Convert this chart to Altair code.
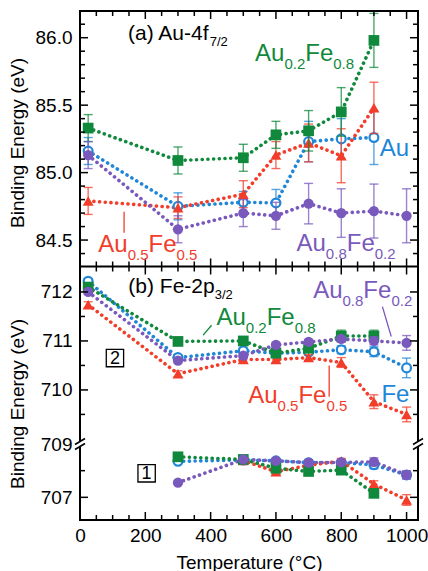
import altair as alt
import pandas as pd

FONT = "Liberation Sans"

# ---------------- temperatures (°C) ----------------
T_RT_900 = [25, 300, 500, 600, 700, 800, 900]
T_RT_1000 = [25, 300, 500, 600, 700, 800, 900, 1000]
T_300_900 = [300, 500, 600, 700, 800, 900]
T_300_1000 = [300, 500, 600, 700, 800, 900, 1000]
T_500_1000 = [500, 600, 700, 800, 900, 1000]

# ---------------- (a) Au-4f7/2 binding energy (eV) ----------------
a_au02fe08 = [85.33, 85.09, 85.11, 85.28, 85.31, 85.45, 85.98]
a_au02fe08_err = [0.10, 0.10, 0.10, 0.10, 0.15, 0.18, 0.20]
a_au = [85.16, 84.75, 84.78, 84.775, 85.23, 85.25, 85.26]
a_au_err = [0.10, 0.10, 0.08, 0.10, 0.15, 0.15, 0.20]
a_au05fe05 = [84.79, 84.74, 84.84, 85.13, 85.22, 85.125, 85.48]
a_au05fe05_err = [0.10, 0.08, 0.10, 0.10, 0.14, 0.20, 0.19]
a_au08fe02 = [85.13, 84.58, 84.70, 84.68, 84.77, 84.70, 84.715, 84.68]
a_au08fe02_err = [0.10, 0.10, 0.10, 0.10, 0.15, 0.18, 0.20, 0.20]

# ---------------- (b) Fe-2p3/2, component 2 ----------------
b2_au02fe08 = [712.10, 710.99, 711.00, 710.75, 710.85, 711.10, 711.10]
b2_au02fe08_err = [0.05, 0.05, 0.05, 0.06, 0.08, 0.12, 0.12]
b2_fe = [712.22, 710.66, 710.80, 710.75, 710.77, 710.82, 710.78, 710.45]
b2_fe_err = [0.05, 0.05, 0.05, 0.05, 0.05, 0.08, 0.10, 0.20]
b2_au05fe05 = [711.74, 710.33, 710.62, 710.62, 710.66, 710.56, 709.76, 709.50]
b2_au05fe05_err = [0.06, 0.06, 0.06, 0.06, 0.06, 0.10, 0.14, 0.15]
b2_au08fe02 = [712.00, 710.60, 710.70, 710.92, 710.98, 711.04, 711.00, 710.96]
b2_au08fe02_err = [0.05, 0.05, 0.05, 0.05, 0.05, 0.06, 0.08, 0.15]

# ---------------- (b) Fe-2p3/2, component 1 ----------------
b1_au02fe08 = [708.52, 708.42, 708.09, 707.97, 708.02, 707.15]
b1_au02fe08_err = [0.08, 0.05, 0.08, 0.08, 0.12, 0.15]
b1_fe = [708.35, 708.40, 708.37, 708.30, 708.30, 708.22, 707.84]
b1_fe_err = [0.05, 0.05, 0.05, 0.05, 0.05, 0.15, 0.15]
b1_au08fe02 = [707.55, 708.42, 708.37, 708.30, 708.31, 708.33, 707.84]
b1_au08fe02_err = [0.05, 0.05, 0.05, 0.06, 0.10, 0.15, 0.15]
b1_au05fe05 = [708.38, 707.96, 708.20, 708.36, 707.50, 706.90]
b1_au05fe05_err = [0.05, 0.10, 0.06, 0.10, 0.12, 0.20]

# ---------------- axis ticks ----------------
X_LABELS = [0, 200, 400, 600, 800, 1000]
X_MINOR = [50, 100, 150, 250, 300, 350, 450, 500, 550, 650, 700, 750, 850, 900, 950]
A_LABELS = [84.5, 85.0, 85.5, 86.0]
A_MINOR = [84.4, 84.6, 84.7, 84.8, 84.9, 85.1, 85.2, 85.3, 85.4,
           85.6, 85.7, 85.8, 85.9, 86.1]
B_LABELS = [707, 709, 710, 711, 712]
B_MAJOR = [707, 710, 711, 712]
B_MINOR = [708, 709.5, 710.5, 711.5]
B_BREAK = [709]


def series_frame(peak, key, temps, vals, errs):
    return pd.DataFrame({
        "peak": peak, "series": key, "T": temps, "E": vals,
        "lo": [v - e for v, e in zip(vals, errs)],
        "hi": [v + e for v, e in zip(vals, errs)],
    })


data_a = pd.concat([
    series_frame("a", "au02fe08", T_RT_900, a_au02fe08, a_au02fe08_err),
    series_frame("a", "pure", T_RT_900, a_au, a_au_err),
    series_frame("a", "au05fe05", T_RT_900, a_au05fe05, a_au05fe05_err),
    series_frame("a", "au08fe02", T_RT_1000, a_au08fe02, a_au08fe02_err),
], ignore_index=True)

data_b = pd.concat([
    series_frame("p2", "au02fe08", T_RT_900, b2_au02fe08, b2_au02fe08_err),
    series_frame("p2", "pure", T_RT_1000, b2_fe, b2_fe_err),
    series_frame("p2", "au05fe05", T_RT_1000, b2_au05fe05, b2_au05fe05_err),
    series_frame("p2", "au08fe02", T_RT_1000, b2_au08fe02, b2_au08fe02_err),
    series_frame("p1", "au02fe08", T_300_900, b1_au02fe08, b1_au02fe08_err),
    series_frame("p1", "pure", T_300_1000, b1_fe, b1_fe_err),
    series_frame("p1", "au05fe05", T_500_1000, b1_au05fe05, b1_au05fe05_err),
    series_frame("p1", "au08fe02", T_300_1000, b1_au08fe02, b1_au08fe02_err),
], ignore_index=True)

GREEN, BLUE, RED, PURPLE = "#10893c", "#1f86d8", "#f23d2a", "#7a59bd"
STYLE = {
    "pure": dict(color=BLUE, shape="circle", size=78, open=True),
    "au05fe05": dict(color=RED, shape="triangle-up", size=120, open=False),
    "au02fe08": dict(color=GREEN, shape="square", size=115, open=False),
    "au08fe02": dict(color=PURPLE, shape="circle", size=105, open=False),
}
ORDER = ["pure", "au05fe05", "au02fe08", "au08fe02"]

# plot area: panel (a) on top, panel (b) below with a broken energy axis
W, H = 338, 509
MID = 255.5
x_scale = alt.Scale(domain=[0, 1035], nice=False, zero=False)
y_scale_a = alt.Scale(domain=[84.304, 86.198], range=[MID, 0], nice=False, zero=False)
y_scale_b = alt.Scale(domain=[706.15, 709.0, 709.1, 712.52], range=[H, 433, 423, MID],
                      nice=False, zero=False)

y_title = "Binding Energy (eV)"
axis_a = alt.Axis(values=A_LABELS, format=".1f", title=y_title, orient="left", ticks=False,
                  domain=False, grid=False, labelPadding=8, titlePadding=9,
                  minExtent=44, maxExtent=44, titleY=131.5)
axis_b = alt.Axis(values=B_LABELS, format="d", title=y_title, orient="left", ticks=False,
                  domain=False, grid=False, labelPadding=8, titlePadding=9,
                  minExtent=44, maxExtent=44, titleY=392.5)
axis_x = alt.Axis(values=X_LABELS, format="d", title="Temperature (°C)", ticks=False,
                  domain=False, grid=False, labelPadding=6, titlePadding=8, labelFlush=False)

CHAR_W = {"A": 0.667, "u": 0.556, "F": 0.611, "e": 0.556, ".": 0.278, "(": 0.333,
          ")": 0.333, " ": 0.278, "-": 0.333, "f": 0.278, "p": 0.556, "/": 0.278,
          "a": 0.556, "b": 0.556}


def text_w(s, size):
    return size * sum(CHAR_W.get(c, 0.556) for c in s)


def alloy(a, b):
    return [("Au", False), (a, True), ("Fe", False), (b, True)]


def X(f):
    return alt.X(f"{f}:Q", scale=x_scale, axis=axis_x)


def make_panel(data, y_scale, y_axis, top, bottom, y_major, y_minor, notes, leaders,
               boxes, breaks):
    def Y(f):
        return alt.Y(f"{f}:Q", scale=y_scale, axis=y_axis)

    layers = []
    # dotted connecting lines
    for key in ORDER:
        st = STYLE[key]
        layers.append(alt.Chart(data[data.series == key]).mark_line(
            color=st["color"], strokeDash=[0.1, 5.6], strokeCap="round", strokeWidth=3.6
        ).encode(x=X("T"), y=Y("E"), detail="peak:N", order="T:Q"))

    # error bars and markers
    for key in ORDER:
        st = STYLE[key]
        base = alt.Chart(data[data.series == key])
        layers.append(base.mark_rule(color=st["color"], strokeWidth=1.4, opacity=0.75)
                      .encode(x=X("T"), y=Y("lo"), y2="hi:Q"))
        for f in ("lo", "hi"):
            layers.append(base.mark_tick(orient="horizontal", color=st["color"], size=9,
                                         thickness=1.4, opacity=0.75)
                          .encode(x=X("T"), y=Y(f)))
        if st["open"]:
            mk = base.mark_point(shape=st["shape"], filled=False, fill="white",
                                 fillOpacity=1, stroke=st["color"], strokeWidth=2.2,
                                 size=st["size"], opacity=1)
        else:
            mk = base.mark_point(shape=st["shape"], filled=True, color=st["color"],
                                 size=st["size"], opacity=1)
        layers.append(mk.encode(x=X("T"), y=Y("E")))

    # inward ticks on the panel edges
    tick = dict(color="black", strokeWidth=1.5)
    for vals, length in ((X_LABELS, 8), (X_MINOR, 5)):
        src = alt.Chart(pd.DataFrame({"T": vals}))
        for y0, y1 in ((top, top + length), (bottom, bottom - length)):
            layers.append(src.mark_rule(**tick).encode(x=X("T"), y=alt.value(y0),
                                                       y2=alt.value(y1)))
    for vals, length in ((y_major, 8), (y_minor, 5)):
        src = alt.Chart(pd.DataFrame({"v": vals}))
        layers.append(src.mark_rule(**tick).encode(y=Y("v"), x=alt.value(0),
                                                   x2=alt.value(length)))
        layers.append(src.mark_rule(**tick).encode(y=Y("v"), x=alt.value(W),
                                                   x2=alt.value(W - length)))

    # axis break marks on both vertical edges
    if breaks:
        brk = alt.Chart(pd.DataFrame({"v": breaks}))
        for xpos in (0, W):
            layers.append(brk.mark_rule(color="white", strokeWidth=5, yOffset=-3, y2Offset=3)
                          .encode(x=alt.value(xpos), y=Y("v"), y2="v:Q"))
            for c in (-2.5, 2.5):
                layers.append(brk.mark_rule(color="black", strokeWidth=1.6, yOffset=c + 3,
                                            y2Offset=c - 3)
                              .encode(x=alt.value(xpos - 5), x2=alt.value(xpos + 5),
                                      y=Y("v"), y2="v:Q"))

    # leader lines
    for (t1, v1, t2, v2, color) in leaders:
        src = pd.DataFrame({"T": [t1], "T2": [t2], "v": [v1], "v2": [v2]})
        layers.append(alt.Chart(src).mark_rule(color=color, strokeWidth=1.3)
                      .encode(x=X("T"), x2="T2:Q", y=Y("v"), y2="v2:Q"))

    # boxed component numbers
    for (t, v, label) in boxes:
        src = alt.Chart(pd.DataFrame({"T": [t], "v": [v]}))
        layers.append(src.mark_point(shape="square", filled=False, stroke="black",
                                     strokeWidth=1.3, size=300, opacity=1)
                      .encode(x=X("T"), y=Y("v")))
        layers.append(src.mark_text(text=label, font=FONT, fontSize=18, baseline="middle",
                                    align="center", dy=1, color="black")
                      .encode(x=X("T"), y=Y("v")))

    # labels with subscripts
    for (t, v, parts, color, size, sub_size, sub_dy) in notes:
        src = alt.Chart(pd.DataFrame({"T": [t], "v": [v]}))
        off = 0.0
        for txt, sub in parts:
            fs = sub_size if sub else size
            layers.append(src.mark_text(
                text=txt, align="left", baseline="alphabetic", dx=off,
                dy=sub_dy if sub else 0, font=FONT, fontSize=fs, color=color
            ).encode(x=X("T"), y=Y("v")))
            off += text_w(txt, fs)

    return alt.layer(*layers)


panel_a = make_panel(
    data_a, y_scale_a, axis_a, 0, MID, A_LABELS, A_MINOR,
    notes=[
        (147, 85.98, [("(a) Au-4f", False), ("7/2", True)], "black", 21, 13, 6),
        (536, 85.83, alloy("0.2", "0.8"), GREEN, 24, 15, 8),
        (918, 85.12, [("Au", False)], BLUE, 24, 15, 8),
        (56, 84.41, alloy("0.5", "0.5"), RED, 24, 15, 8),
        (663, 84.42, alloy("0.8", "0.2"), PURPLE, 24, 15, 8),
    ],
    leaders=[(135, 84.71, 135, 84.555, RED)],
    boxes=[], breaks=None,
)

panel_b = make_panel(
    data_b, y_scale_b, axis_b, MID, H, B_MAJOR, B_MINOR,
    notes=[
        (148, 711.98, [("(b) Fe-2p", False), ("3/2", True)], "black", 21, 13, 6),
        (418, 711.33, alloy("0.2", "0.8"), GREEN, 24, 15, 8),
        (714, 711.88, alloy("0.8", "0.2"), PURPLE, 24, 15, 8),
        (515, 709.73, alloy("0.5", "0.5"), RED, 24, 15, 8),
        (923, 709.76, [("Fe", False)], BLUE, 24, 15, 8),
    ],
    leaders=[
        (377, 711.12, 403, 711.32, GREEN),
        (926, 711.70, 953, 711.09, PURPLE),
        (763, 710.50, 763, 709.86, RED),
    ],
    boxes=[(107, 710.65, "2"), (204, 707.9, "1")],
    breaks=B_BREAK,
)

# divider between the two panels
divider = alt.Chart(pd.DataFrame({"T": [0]})).mark_rule(color="black", strokeWidth=2).encode(
    x=alt.value(0), x2=alt.value(W), y=alt.value(MID))

chart = alt.layer(panel_a, panel_b, divider).resolve_scale(y="independent").properties(
    width=W, height=H,
    autosize=alt.AutoSizeParams(type="none"),
    padding={"left": 80, "top": 11, "right": 10, "bottom": 51},
    background="white",
).configure_view(
    stroke="black", strokeWidth=2
).configure_axis(
    labelFont=FONT, titleFont=FONT, labelFontSize=19, titleFontSize=19,
    titleFontWeight="normal", labelColor="black", titleColor="black",
)

chart.save("out.html", embed_options={"renderer": "svg", "actions": False})
